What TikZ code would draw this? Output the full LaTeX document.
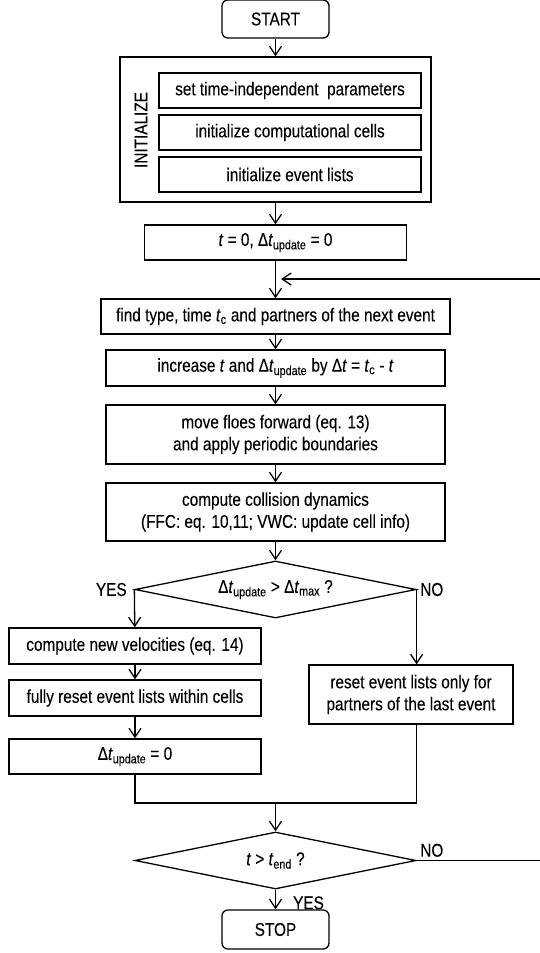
\documentclass[tikz,border=0pt]{standalone}
\usepackage{fontspec}
\setmainfont[FakeStretch=0.83,FakeBold=0.15]{Liberation Sans}
\usepackage{tikz}
\usetikzlibrary{positioning,shapes,arrows.meta,calc}

\newcommand{\itsub}[2]{\textit{#1}\textsubscript{#2}}

\tikzset{
  box/.style = {draw, rectangle, inner sep = 0pt, minimum height = 35pt, align = center},
  term/.style = {box, rounded corners = 6pt, minimum width = 107pt, minimum height = 38pt},
  test/.style = {draw, diamond, aspect = 5, inner sep = 0pt, minimum width = 281pt, minimum height = 57pt},
  lbl/.style = {inner sep = 0pt},
  flow/.style = {-{Straight Barb[length = 9pt, width = 12pt]}}
}

\begin{document}
\begin{tikzpicture}[x = 1pt, y = -1pt, line width = 1.3pt, font = \fontsize{18.5}{22}\selectfont]

\useasboundingbox (0,0) rectangle (539,953);

\node[term] (start) at (275.5, 19) {START};

\node[box, minimum width = 311pt, minimum height = 145pt] (init) at (275.5, 129.5) {};
\node[rotate = 90] (initlbl) at (141, 130) {INITIALIZE};
\node[box, minimum width = 262pt] (params) at (290, 90.5) {set time-independent\ \ parameters};
\node[box, minimum width = 262pt] (cells) at (290, 132.5) {initialize computational cells};
\node[box, minimum width = 262pt] (events) at (290, 174.5) {initialize event lists};

\node[box, minimum width = 262pt] (tzero) at (275.5, 242.5) {\textit{t} = 0, Δ\itsub{t}{update} = 0};
\coordinate (loopin) at (281, 279);

\node[box, minimum width = 349pt] (find) at (275.5, 316.5) {find type, time \itsub{t}{c} and partners of the next event};
\node[box, minimum width = 339pt, minimum height = 36pt] (advance) at (275.5, 368) {increase \textit{t} and Δ\itsub{t}{update} by Δ\textit{t} = \itsub{t}{c} - \textit{t}};
\node[box, minimum width = 339pt, minimum height = 59pt] (move) at (275.5, 434.5) {move floes forward (eq. 13)\\and apply periodic boundaries};
\node[box, minimum width = 339pt, minimum height = 58pt] (collide) at (275.5, 512) {compute collision dynamics\\(FFC: eq. 10,11; VWC: update cell info)};

\node[test] (update) at (275.5, 589.5) {Δ\itsub{t}{update} > Δ\itsub{t}{max} ?};
\node[lbl, left = 7pt of update.west] (yes1) {YES};
\node[lbl, right = 3pt of update.east] (no1) {NO};

\node[box, minimum width = 252pt, minimum height = 36pt] (newvel) at (135, 646) {compute new velocities (eq. 14)};
\node[box, minimum width = 252pt, minimum height = 36pt] (fullreset) at (135, 698) {fully reset event lists within cells};
\node[box, minimum width = 252pt] (dtzero) at (135, 756.5) {Δ\itsub{t}{update} = 0};
\node[box, minimum width = 204pt, minimum height = 59pt] (partreset) at (411, 694.5) {reset event lists only for\\partners of the last event};

\coordinate (join) at (275.5, 803);

\node[test] (finish) at (275.5, 860.5) {\textit{t} > \itsub{t}{end} ?};
\node[lbl, above right = 3pt and 3pt of finish.east] (no2) {NO};

\node[term, minimum height = 39pt] (stop) at (275.5, 929.5) {STOP};

\draw[flow] (start) -- (init);
\draw[flow] (init) -- (tzero);
\draw[flow] (tzero) -- (find);
\draw[flow] (find) -- (advance);
\draw[flow] (advance) -- (move);
\draw[flow] (move) -- (collide);
\draw[flow] (collide) -- (update);

\draw[flow] (update.west) -- (newvel);
\draw[flow] (newvel) -- (fullreset);
\draw[flow] (fullreset) -- (dtzero);
\draw[flow] (update.east) -- (update.east |- partreset.north);

\draw (dtzero) |- (join);
\draw (partreset.south -| update.east) |- (join);
\draw[flow] (join) -- (finish);

\draw[flow] (finish) -- node[lbl, pos = 0.67, right = 17pt] {YES} (stop);
\draw[flow] (finish.east) -- ++(126,0) |- (loopin);

\end{tikzpicture}
\end{document}
